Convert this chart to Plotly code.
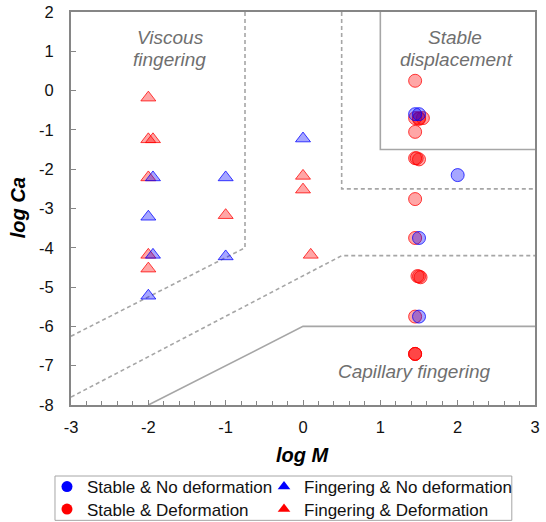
import plotly.graph_objects as go

# Experimental outcomes: log viscosity ratio (log M) vs log capillary number (log Ca)
stable_def_x = [1.45, 1.45, 1.50, 1.55, 1.50, 1.45, 1.45, 1.50, 1.47, 1.45, 1.45, 1.48, 1.52, 1.50, 1.45, 1.45, 1.45, 1.45]
stable_def_y = [0.25, -0.70, -0.70, -0.70, -0.72, -1.05, -1.72, -1.75, -1.72, -2.76, -3.75, -4.72, -4.75, -4.73, -5.75, -6.70, -6.70, -6.70]

stable_nodef_x = [1.45, 1.50, 2.00, 1.50, 1.50]
stable_nodef_y = [-0.60, -0.60, -2.15, -3.75, -5.75]

finger_def_x = [-2.00, -2.00, -1.94, -2.00, -2.00, -2.00, -1.00, 0.00, 0.00, 0.10]
finger_def_y = [-0.18, -1.24, -1.24, -2.21, -4.18, -4.53, -3.17, -2.17, -2.52, -4.18]

finger_nodef_x = [-1.94, -2.00, -1.94, -2.00, -1.00, -1.00, 0.00]
finger_nodef_y = [-2.21, -3.21, -4.18, -5.22, -2.21, -4.22, -1.22]

# Regime boundaries (Lenormand-type phase diagram)
viscous_bound_x = [-0.75, -0.75, -3.0]
viscous_bound_y = [2.0, -4.0, -6.25]
transition_bound_x = [-3.0, 0.5, 3.0]
transition_bound_y = [-7.8, -4.2, -4.2]
stable_outer_x = [0.5, 0.5, 3.0]
stable_outer_y = [2.0, -2.5, -2.5]
stable_inner_x = [1.0, 1.0, 3.0]
stable_inner_y = [2.0, -1.5, -1.5]
capillary_bound_x = [-2.0, 0.0, 3.0]
capillary_bound_y = [-8.0, -6.0, -6.0]

x_ticks = [-3, -2, -1, 0, 1, 2, 3]
y_ticks = [2, 1, 0, -1, -2, -3, -4, -5, -6, -7, -8]

FONT = "Liberation Sans, Arial, sans-serif"
GRAY_LINE = "#a6a6a6"
LABEL_GRAY = "#6f6f6f"

fig = go.Figure()

dashed = dict(color=GRAY_LINE, width=1.6, dash="4px,3px")
solid = dict(color=GRAY_LINE, width=1.6)
for bx, by, style in [
    (viscous_bound_x, viscous_bound_y, dashed),
    (transition_bound_x, transition_bound_y, dashed),
    (stable_outer_x, stable_outer_y, dashed),
    (stable_inner_x, stable_inner_y, solid),
    (capillary_bound_x, capillary_bound_y, solid),
]:
    fig.add_trace(go.Scatter(x=bx, y=by, mode="lines", line=style,
                             showlegend=False, hoverinfo="skip"))

RED_FILL = "rgba(255,0,0,0.35)"
RED_EDGE = "rgba(255,0,0,0.75)"
BLUE_FILL = "rgba(0,0,255,0.35)"
BLUE_EDGE = "rgba(0,0,255,0.75)"

# Data markers (red layer first, blue on top)
fig.add_trace(go.Scatter(x=stable_def_x, y=stable_def_y, mode="markers", showlegend=False,
                         marker=dict(symbol="circle", size=13, color=RED_FILL,
                                     line=dict(color=RED_EDGE, width=1))))
fig.add_trace(go.Scatter(x=finger_def_x, y=finger_def_y, mode="markers", showlegend=False,
                         marker=dict(symbol="triangle-up", size=13, color=RED_FILL,
                                     line=dict(color=RED_EDGE, width=1))))
fig.add_trace(go.Scatter(x=stable_nodef_x, y=stable_nodef_y, mode="markers", showlegend=False,
                         marker=dict(symbol="circle", size=13, color=BLUE_FILL,
                                     line=dict(color=BLUE_EDGE, width=1))))
fig.add_trace(go.Scatter(x=finger_nodef_x, y=finger_nodef_y, mode="markers", showlegend=False,
                         marker=dict(symbol="triangle-up", size=13, color=BLUE_FILL,
                                     line=dict(color=BLUE_EDGE, width=1))))

# Legend entries with solid symbols, one small legend per cell of a 2x2 grid
legend_items = [
    ("Stable & No deformation", "circle", "#0000ff", "legend"),
    ("Fingering & No deformation", "triangle-up", "#0000ff", "legend2"),
    ("Stable & Deformation", "circle", "#ff0000", "legend3"),
    ("Fingering & Deformation", "triangle-up", "#ff0000", "legend4"),
]
for name, sym, col, lg in legend_items:
    fig.add_trace(go.Scatter(x=[None], y=[None], mode="markers", name=name, legend=lg,
                             marker=dict(symbol=sym, size=11, color=col, line=dict(width=0))))

# Regime labels
label_font = dict(family=FONT, size=19, color=LABEL_GRAY)
for text, x, y in [
    ("<i>Viscous</i>", -1.71, 1.36),
    ("<i>fingering</i>", -1.73, 0.78),
    ("<i>Stable</i>", 1.97, 1.36),
    ("<i>displacement</i>", 1.99, 0.78),
    ("<i>Capillary fingering</i>", 1.44, -7.15),
]:
    fig.add_annotation(x=x, y=y, text=text, showarrow=False, font=label_font,
                       xanchor="center", yanchor="middle")

# Axis titles
fig.add_annotation(xref="paper", yref="paper", x=0.5, y=-0.127, text="<b><i>log M</i></b>",
                   showarrow=False, font=dict(family=FONT, size=20, color="#000"),
                   xanchor="center", yanchor="middle")
fig.add_annotation(xref="paper", yref="paper", x=-0.114, y=0.501, text="<b><i>log Ca</i></b>",
                   showarrow=False, textangle=-90, font=dict(family=FONT, size=20, color="#000"),
                   xanchor="center", yanchor="middle")

# Legend frame
fig.add_shape(type="rect", xref="paper", yref="paper", x0=-0.0345, x1=0.950,
              y0=-0.1807, y1=-0.2935, line=dict(color="#a6a6a6", width=1),
              fillcolor="white", layer="below")

axis_common = dict(showgrid=False, zeroline=False, showline=True, linecolor="#868686",
                   linewidth=2, mirror=True, ticks="inside", tickcolor="#868686",
                   tickwidth=1.3, ticklen=5,
                   tickfont=dict(family=FONT, size=16.5, color="#111"))

fig.update_xaxes(range=[-3, 3], tickvals=x_ticks, ticktext=[str(v) for v in x_ticks],
                 ticklabelstandoff=6,
                 minor=dict(dtick=0.2, ticks="inside", ticklen=4, tickcolor="#868686", tickwidth=1.2),
                 **axis_common)
fig.update_yaxes(range=[-8, 2], tickvals=y_ticks, ticktext=[str(v) for v in y_ticks],
                 ticklabelstandoff=12, **axis_common)

legend_style = dict(orientation="v", xanchor="left", yanchor="top", borderwidth=0,
                    bgcolor="rgba(0,0,0,0)", itemwidth=30,
                    font=dict(family=FONT, size=17, color="#111"))
col_x = [-0.0496, 0.4289]
row_y = [-0.163, -0.2201]

fig.update_layout(
    width=546, height=522,
    margin=dict(l=71, r=11, t=12, b=117, autoexpand=False),
    plot_bgcolor="white", paper_bgcolor="white",
    font=dict(family=FONT),
    legend=dict(x=col_x[0], y=row_y[0], indentation=-1, **legend_style),
    legend2=dict(x=col_x[1], y=row_y[0], indentation=-6, **legend_style),
    legend3=dict(x=col_x[0], y=row_y[1], indentation=-1, **legend_style),
    legend4=dict(x=col_x[1], y=row_y[1], indentation=-6, **legend_style),
)

fig.write_html("out.html")
